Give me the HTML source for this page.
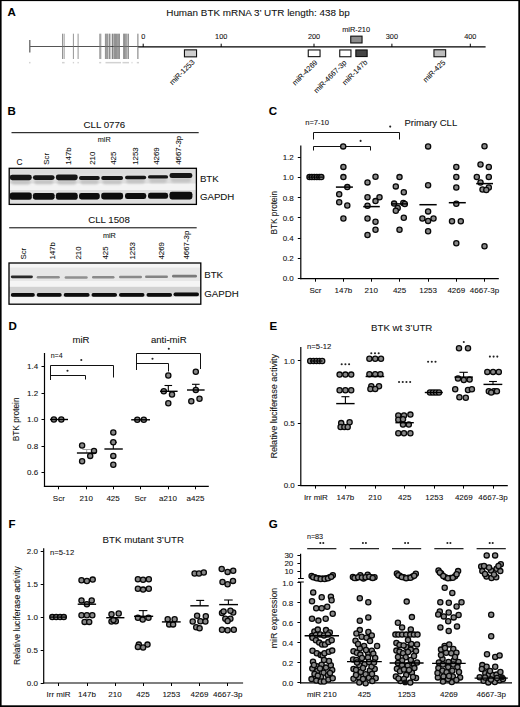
<!DOCTYPE html>
<html><head><meta charset="utf-8"><style>
html,body{margin:0;padding:0;background:#fff;}
svg{display:block;}
text{font-family:"Liberation Sans", sans-serif;stroke:#111;stroke-width:0.08px;}
</style></head><body>
<svg width="520" height="707" viewBox="0 0 520 707">
<rect x="0" y="0" width="520" height="707" fill="#fff"/>
<text x="7.60" y="16.40" font-size="11.5" text-anchor="start" font-weight="bold" fill="#000">A</text>
<text x="7.60" y="115.20" font-size="11.5" text-anchor="start" font-weight="bold" fill="#000">B</text>
<text x="268.80" y="115.20" font-size="11.5" text-anchor="start" font-weight="bold" fill="#000">C</text>
<text x="8.40" y="330.10" font-size="11.5" text-anchor="start" font-weight="bold" fill="#000">D</text>
<text x="269.40" y="330.20" font-size="11.5" text-anchor="start" font-weight="bold" fill="#000">E</text>
<text x="8.60" y="528.10" font-size="11.5" text-anchor="start" font-weight="bold" fill="#000">F</text>
<text x="268.80" y="528.30" font-size="11.5" text-anchor="start" font-weight="bold" fill="#000">G</text>
<text x="258.00" y="16.40" font-size="9.9" text-anchor="middle" fill="#111">Human BTK mRNA 3&#8217; UTR length: 438 bp</text>
<line x1="30.00" y1="46.50" x2="138.50" y2="46.50" stroke="#555" stroke-width="1.0"/>
<line x1="29.80" y1="40.10" x2="29.80" y2="52.60" stroke="#666" stroke-width="1.3"/>
<line x1="62.50" y1="33.70" x2="62.50" y2="59.00" stroke="#707070" stroke-width="0.75"/>
<line x1="64.10" y1="33.70" x2="64.10" y2="59.00" stroke="#707070" stroke-width="0.75"/>
<line x1="73.40" y1="33.70" x2="73.40" y2="59.00" stroke="#707070" stroke-width="0.75"/>
<line x1="78.10" y1="33.70" x2="78.10" y2="59.00" stroke="#707070" stroke-width="0.75"/>
<line x1="99.80" y1="33.70" x2="99.80" y2="59.00" stroke="#707070" stroke-width="0.75"/>
<line x1="100.80" y1="33.70" x2="100.80" y2="59.00" stroke="#707070" stroke-width="0.75"/>
<line x1="105.40" y1="33.70" x2="105.40" y2="59.00" stroke="#707070" stroke-width="0.75"/>
<line x1="106.20" y1="33.70" x2="106.20" y2="59.00" stroke="#707070" stroke-width="0.75"/>
<line x1="107.10" y1="33.70" x2="107.10" y2="59.00" stroke="#707070" stroke-width="0.75"/>
<line x1="107.90" y1="33.70" x2="107.90" y2="59.00" stroke="#707070" stroke-width="0.75"/>
<line x1="109.40" y1="33.70" x2="109.40" y2="59.00" stroke="#707070" stroke-width="0.75"/>
<line x1="110.00" y1="33.70" x2="110.00" y2="59.00" stroke="#707070" stroke-width="0.75"/>
<line x1="112.30" y1="33.70" x2="112.30" y2="59.00" stroke="#333" stroke-width="0.75"/>
<line x1="113.80" y1="33.70" x2="113.80" y2="59.00" stroke="#707070" stroke-width="0.75"/>
<line x1="114.60" y1="33.70" x2="114.60" y2="59.00" stroke="#707070" stroke-width="0.75"/>
<line x1="115.50" y1="33.70" x2="115.50" y2="59.00" stroke="#707070" stroke-width="0.75"/>
<line x1="116.50" y1="33.70" x2="116.50" y2="59.00" stroke="#707070" stroke-width="0.75"/>
<line x1="117.60" y1="33.70" x2="117.60" y2="59.00" stroke="#707070" stroke-width="0.75"/>
<line x1="118.60" y1="33.70" x2="118.60" y2="59.00" stroke="#707070" stroke-width="0.75"/>
<line x1="119.50" y1="33.70" x2="119.50" y2="59.00" stroke="#707070" stroke-width="0.75"/>
<line x1="123.60" y1="33.70" x2="123.60" y2="59.00" stroke="#707070" stroke-width="0.75"/>
<line x1="124.40" y1="33.70" x2="124.40" y2="59.00" stroke="#707070" stroke-width="0.75"/>
<line x1="125.20" y1="33.70" x2="125.20" y2="59.00" stroke="#707070" stroke-width="0.75"/>
<line x1="126.10" y1="33.70" x2="126.10" y2="59.00" stroke="#707070" stroke-width="0.75"/>
<line x1="127.10" y1="33.70" x2="127.10" y2="59.00" stroke="#707070" stroke-width="0.75"/>
<line x1="128.50" y1="33.70" x2="128.50" y2="59.00" stroke="#707070" stroke-width="0.75"/>
<line x1="137.90" y1="33.70" x2="137.90" y2="59.00" stroke="#666" stroke-width="0.9"/>
<rect x="29.0" y="61.9" width="1.5" height="1.5" fill="#d2d2d2"/>
<rect x="62.0" y="61.9" width="2.6" height="1.5" fill="#d2d2d2"/>
<rect x="72.8" y="61.9" width="1.3" height="1.5" fill="#d2d2d2"/>
<rect x="77.5" y="61.9" width="1.3" height="1.5" fill="#d2d2d2"/>
<rect x="99.2" y="61.9" width="2.0" height="1.5" fill="#d2d2d2"/>
<rect x="105.5" y="61.9" width="15.5" height="1.5" fill="#d2d2d2"/>
<rect x="122.5" y="61.9" width="6.5" height="1.5" fill="#d2d2d2"/>
<rect x="131.5" y="61.9" width="1.0" height="1.5" fill="#d2d2d2"/>
<rect x="136.8" y="61.9" width="2.2" height="1.5" fill="#d2d2d2"/>
<line x1="138.30" y1="46.90" x2="485.60" y2="46.90" stroke="#000" stroke-width="1.4"/>
<line x1="143.20" y1="43.70" x2="143.20" y2="47.00" stroke="#000" stroke-width="1.0"/>
<text x="143.20" y="38.90" font-size="7.3" text-anchor="middle" fill="#111">0</text>
<line x1="221.20" y1="43.70" x2="221.20" y2="47.00" stroke="#000" stroke-width="1.0"/>
<text x="221.20" y="38.90" font-size="7.3" text-anchor="middle" fill="#111">100</text>
<line x1="314.00" y1="43.70" x2="314.00" y2="47.00" stroke="#000" stroke-width="1.0"/>
<text x="314.00" y="38.90" font-size="7.3" text-anchor="middle" fill="#111">200</text>
<line x1="391.90" y1="43.70" x2="391.90" y2="47.00" stroke="#000" stroke-width="1.0"/>
<text x="391.90" y="38.90" font-size="7.3" text-anchor="middle" fill="#111">300</text>
<line x1="470.30" y1="43.70" x2="470.30" y2="47.00" stroke="#000" stroke-width="1.0"/>
<text x="470.30" y="38.90" font-size="7.3" text-anchor="middle" fill="#111">400</text>
<rect x="184.45" y="49.85" width="12.10" height="7.00" fill="#cfcfcf" stroke="#111" stroke-width="1.1"/>
<rect x="308.25" y="49.95" width="11.80" height="6.70" fill="#fff" stroke="#111" stroke-width="1.1"/>
<rect x="339.75" y="49.95" width="11.20" height="6.80" fill="#fff" stroke="#111" stroke-width="1.1"/>
<rect x="355.85" y="49.95" width="11.30" height="6.60" fill="#454545" stroke="#111" stroke-width="1.1"/>
<rect x="350.75" y="36.15" width="11.30" height="6.80" fill="#8c8c8c" stroke="#111" stroke-width="1.1"/>
<rect x="433.95" y="49.75" width="11.70" height="7.00" fill="#bdbdbd" stroke="#111" stroke-width="1.1"/>
<text x="356.10" y="32.20" font-size="7.4" text-anchor="middle" fill="#111">miR-210</text>
<text x="195.20" y="62.60" font-size="7.4" text-anchor="end" fill="#111" transform="rotate(-45 195.20 62.60)">miR-1253</text>
<text x="318.00" y="63.00" font-size="7.4" text-anchor="end" fill="#111" transform="rotate(-45 318.00 63.00)">miR-4269</text>
<text x="347.00" y="63.20" font-size="7.4" text-anchor="end" fill="#111" transform="rotate(-45 347.00 63.20)">miR-4667-3p</text>
<text x="367.80" y="62.80" font-size="7.4" text-anchor="end" fill="#111" transform="rotate(-45 367.80 62.80)">miR-147b</text>
<text x="445.80" y="63.00" font-size="7.4" text-anchor="end" fill="#111" transform="rotate(-45 445.80 63.00)">miR-425</text>
<defs><filter id="bl" x="-10%" y="-50%" width="120%" height="200%"><feGaussianBlur stdDeviation="0.55"/></filter><filter id="bl2" x="-10%" y="-50%" width="120%" height="200%"><feGaussianBlur stdDeviation="0.9"/></filter></defs>
<text x="83.60" y="127.60" font-size="9.7" text-anchor="start" fill="#111">CLL 0776</text>
<line x1="11.50" y1="132.70" x2="198.70" y2="132.70" stroke="#000" stroke-width="1.0"/>
<text x="97.70" y="142.30" font-size="7.3" text-anchor="start" fill="#111">miR</text>
<text x="19.50" y="164.80" font-size="8.3" text-anchor="middle" fill="#111">C</text>
<text x="48.90" y="164.80" font-size="7.9" text-anchor="start" fill="#111" transform="rotate(-90 48.90 164.80)">Scr</text>
<text x="71.20" y="164.80" font-size="7.9" text-anchor="start" fill="#111" transform="rotate(-90 71.20 164.80)">147b</text>
<text x="94.70" y="164.80" font-size="7.9" text-anchor="start" fill="#111" transform="rotate(-90 94.70 164.80)">210</text>
<text x="116.30" y="164.80" font-size="7.9" text-anchor="start" fill="#111" transform="rotate(-90 116.30 164.80)">425</text>
<text x="137.90" y="164.80" font-size="7.9" text-anchor="start" fill="#111" transform="rotate(-90 137.90 164.80)">1253</text>
<text x="159.40" y="164.80" font-size="7.9" text-anchor="start" fill="#111" transform="rotate(-90 159.40 164.80)">4269</text>
<text x="181.00" y="164.80" font-size="7.9" text-anchor="start" fill="#111" transform="rotate(-90 181.00 164.80)">4667-3p</text>
<rect x="9.2" y="168.3" width="187.20000000000002" height="36.099999999999994" fill="#dfdfdf"/>
<rect x="9.2" y="183.5" width="187.20000000000002" height="6.5" fill="#f3f3f3" filter="url(#bl)"/>
<rect x="9.2" y="168.3" width="187.20000000000002" height="5" fill="#dcdcdc"/>
<rect x="11.10" y="179.90" width="19.40" height="4.60" rx="2.30" fill="#c4c4c4" filter="url(#bl2)"/>
<rect x="34.20" y="179.70" width="19.10" height="4.60" rx="2.30" fill="#c4c4c4" filter="url(#bl2)"/>
<rect x="57.20" y="179.90" width="19.20" height="4.60" rx="2.30" fill="#c4c4c4" filter="url(#bl2)"/>
<rect x="80.30" y="179.60" width="18.20" height="4.60" rx="2.30" fill="#c4c4c4" filter="url(#bl2)"/>
<rect x="102.50" y="179.70" width="19.30" height="4.60" rx="2.30" fill="#c4c4c4" filter="url(#bl2)"/>
<rect x="126.30" y="178.95" width="18.60" height="4.60" rx="2.30" fill="#c4c4c4" filter="url(#bl2)"/>
<rect x="149.30" y="178.30" width="17.50" height="4.60" rx="2.30" fill="#c4c4c4" filter="url(#bl2)"/>
<rect x="170.80" y="177.80" width="20.30" height="4.60" rx="2.30" fill="#c4c4c4" filter="url(#bl2)"/>
<rect x="9.80" y="174.80" width="22.00" height="5.40" rx="2.40" fill="#141414" filter="url(#bl)"/>
<rect x="9.80" y="192.60" width="22.00" height="7.20" rx="2.40" fill="#0a0a0a" filter="url(#bl)"/>
<rect x="32.90" y="175.20" width="21.70" height="4.80" rx="2.40" fill="#141414" filter="url(#bl)"/>
<rect x="32.90" y="192.90" width="21.70" height="6.80" rx="2.40" fill="#0a0a0a" filter="url(#bl)"/>
<rect x="55.90" y="174.40" width="21.80" height="5.80" rx="2.40" fill="#141414" filter="url(#bl)"/>
<rect x="55.90" y="192.80" width="21.80" height="7.00" rx="2.40" fill="#0a0a0a" filter="url(#bl)"/>
<rect x="79.00" y="175.90" width="20.80" height="4.00" rx="2.00" fill="#141414" filter="url(#bl)"/>
<rect x="79.00" y="193.00" width="20.80" height="6.40" rx="2.40" fill="#0a0a0a" filter="url(#bl)"/>
<rect x="101.20" y="176.00" width="21.90" height="4.00" rx="2.00" fill="#141414" filter="url(#bl)"/>
<rect x="101.20" y="192.70" width="21.90" height="6.80" rx="2.40" fill="#0a0a0a" filter="url(#bl)"/>
<rect x="125.00" y="175.75" width="21.20" height="3.50" rx="1.75" fill="#141414" filter="url(#bl)"/>
<rect x="125.00" y="192.90" width="21.20" height="6.20" rx="2.40" fill="#0a0a0a" filter="url(#bl)"/>
<rect x="148.00" y="175.20" width="20.10" height="3.40" rx="1.70" fill="#141414" filter="url(#bl)"/>
<rect x="148.00" y="192.80" width="20.10" height="6.00" rx="2.40" fill="#0a0a0a" filter="url(#bl)"/>
<rect x="169.50" y="172.90" width="22.90" height="5.20" rx="2.40" fill="#141414" filter="url(#bl)"/>
<rect x="169.50" y="191.80" width="22.90" height="7.60" rx="2.40" fill="#0a0a0a" filter="url(#bl)"/>
<rect x="9.20" y="168.30" width="187.20" height="36.10" fill="none" stroke="#000" stroke-width="1.3"/>
<text x="199.90" y="182.00" font-size="9.7" text-anchor="start" fill="#111">BTK</text>
<text x="199.90" y="199.60" font-size="9.7" text-anchor="start" fill="#111">GAPDH</text>
<text x="88.20" y="223.00" font-size="9.7" text-anchor="start" fill="#111">CLL 1508</text>
<line x1="9.20" y1="227.80" x2="196.70" y2="227.80" stroke="#000" stroke-width="1.0"/>
<text x="102.90" y="237.70" font-size="7.3" text-anchor="start" fill="#111">miR</text>
<text x="26.40" y="259.60" font-size="7.9" text-anchor="start" fill="#111" transform="rotate(-90 26.40 259.60)">Scr</text>
<text x="55.10" y="259.60" font-size="7.9" text-anchor="start" fill="#111" transform="rotate(-90 55.10 259.60)">147b</text>
<text x="81.30" y="259.60" font-size="7.9" text-anchor="start" fill="#111" transform="rotate(-90 81.30 259.60)">210</text>
<text x="108.40" y="259.60" font-size="7.9" text-anchor="start" fill="#111" transform="rotate(-90 108.40 259.60)">425</text>
<text x="134.70" y="259.60" font-size="7.9" text-anchor="start" fill="#111" transform="rotate(-90 134.70 259.60)">1253</text>
<text x="164.10" y="259.60" font-size="7.9" text-anchor="start" fill="#111" transform="rotate(-90 164.10 259.60)">4269</text>
<text x="188.60" y="259.60" font-size="7.9" text-anchor="start" fill="#111" transform="rotate(-90 188.60 259.60)">4667-3p</text>
<rect x="9.0" y="263.0" width="191.8" height="41.19999999999999" fill="#f5f5f5"/>
<rect x="9.0" y="267.6" width="191.8" height="13.4" fill="#e7e7e7" filter="url(#bl)"/>
<rect x="9.0" y="286.8" width="191.8" height="6.5" fill="#d2d2d2" filter="url(#bl)"/>
<rect x="9.0" y="293" width="191.8" height="4" fill="#e0e0e0" filter="url(#bl)"/>
<rect x="10.80" y="275.40" width="22.10" height="2.80" rx="1.40" fill="#2a2a2a" filter="url(#bl)"/>
<rect x="36.70" y="275.95" width="23.10" height="2.50" rx="1.25" fill="#8e8e8e" filter="url(#bl)"/>
<rect x="64.60" y="276.15" width="23.10" height="2.50" rx="1.25" fill="#909090" filter="url(#bl)"/>
<rect x="92.00" y="275.95" width="22.50" height="2.50" rx="1.25" fill="#8a8a8a" filter="url(#bl)"/>
<rect x="119.00" y="275.75" width="23.00" height="2.50" rx="1.25" fill="#8a8a8a" filter="url(#bl)"/>
<rect x="145.00" y="275.50" width="23.00" height="2.60" rx="1.30" fill="#848484" filter="url(#bl)"/>
<rect x="172.00" y="274.80" width="25.00" height="2.80" rx="1.40" fill="#7a7a7a" filter="url(#bl)"/>
<rect x="10.80" y="293.10" width="24.00" height="3.60" rx="1.80" fill="#080808" filter="url(#bl)"/>
<rect x="36.70" y="293.10" width="25.00" height="3.60" rx="1.80" fill="#080808" filter="url(#bl)"/>
<rect x="63.70" y="293.10" width="25.90" height="3.60" rx="1.80" fill="#080808" filter="url(#bl)"/>
<rect x="91.50" y="293.10" width="25.50" height="3.60" rx="1.80" fill="#080808" filter="url(#bl)"/>
<rect x="119.00" y="293.10" width="25.50" height="3.60" rx="1.80" fill="#080808" filter="url(#bl)"/>
<rect x="146.50" y="293.10" width="25.50" height="3.60" rx="1.80" fill="#080808" filter="url(#bl)"/>
<rect x="173.50" y="292.60" width="25.50" height="3.60" rx="1.80" fill="#080808" filter="url(#bl)"/>
<rect x="9.00" y="263.00" width="191.80" height="41.20" fill="none" stroke="#000" stroke-width="1.3"/>
<text x="204.20" y="277.50" font-size="9.7" text-anchor="start" fill="#111">BTK</text>
<text x="204.20" y="296.60" font-size="9.7" text-anchor="start" fill="#111">GAPDH</text>
<line x1="300.80" y1="145.50" x2="300.80" y2="279.20" stroke="#000" stroke-width="1.2"/>
<line x1="297.80" y1="278.50" x2="300.80" y2="278.50" stroke="#000" stroke-width="1.0"/>
<text x="293.80" y="281.10" font-size="8.0" text-anchor="end" fill="#111">0.0</text>
<line x1="297.80" y1="258.50" x2="300.80" y2="258.50" stroke="#000" stroke-width="1.0"/>
<text x="293.80" y="260.96" font-size="8.0" text-anchor="end" fill="#111">0.2</text>
<line x1="297.80" y1="238.50" x2="300.80" y2="238.50" stroke="#000" stroke-width="1.0"/>
<text x="293.80" y="240.82" font-size="8.0" text-anchor="end" fill="#111">0.4</text>
<line x1="297.80" y1="217.50" x2="300.80" y2="217.50" stroke="#000" stroke-width="1.0"/>
<text x="293.80" y="220.68" font-size="8.0" text-anchor="end" fill="#111">0.6</text>
<line x1="297.80" y1="197.50" x2="300.80" y2="197.50" stroke="#000" stroke-width="1.0"/>
<text x="293.80" y="200.54" font-size="8.0" text-anchor="end" fill="#111">0.8</text>
<line x1="297.80" y1="177.50" x2="300.80" y2="177.50" stroke="#000" stroke-width="1.0"/>
<text x="293.80" y="180.40" font-size="8.0" text-anchor="end" fill="#111">1.0</text>
<line x1="297.80" y1="157.50" x2="300.80" y2="157.50" stroke="#000" stroke-width="1.0"/>
<text x="293.80" y="160.26" font-size="8.0" text-anchor="end" fill="#111">1.2</text>
<line x1="300.20" y1="278.70" x2="498.80" y2="278.70" stroke="#000" stroke-width="1.2"/>
<line x1="315.50" y1="278.70" x2="315.50" y2="281.70" stroke="#000" stroke-width="1.0"/>
<text x="315.40" y="292.50" font-size="8.0" text-anchor="middle" fill="#111">Scr</text>
<line x1="343.50" y1="278.70" x2="343.50" y2="281.70" stroke="#000" stroke-width="1.0"/>
<text x="343.40" y="292.50" font-size="8.0" text-anchor="middle" fill="#111">147b</text>
<line x1="371.50" y1="278.70" x2="371.50" y2="281.70" stroke="#000" stroke-width="1.0"/>
<text x="371.30" y="292.50" font-size="8.0" text-anchor="middle" fill="#111">210</text>
<line x1="399.50" y1="278.70" x2="399.50" y2="281.70" stroke="#000" stroke-width="1.0"/>
<text x="399.60" y="292.50" font-size="8.0" text-anchor="middle" fill="#111">425</text>
<line x1="428.50" y1="278.70" x2="428.50" y2="281.70" stroke="#000" stroke-width="1.0"/>
<text x="428.10" y="292.50" font-size="8.0" text-anchor="middle" fill="#111">1253</text>
<line x1="456.50" y1="278.70" x2="456.50" y2="281.70" stroke="#000" stroke-width="1.0"/>
<text x="456.30" y="292.50" font-size="8.0" text-anchor="middle" fill="#111">4269</text>
<line x1="484.50" y1="278.70" x2="484.50" y2="281.70" stroke="#000" stroke-width="1.0"/>
<text x="484.50" y="292.50" font-size="8.0" text-anchor="middle" fill="#111">4667-3p</text>
<text x="276.90" y="212.70" font-size="8.3" text-anchor="middle" fill="#111" transform="rotate(-90 276.90 212.70)">BTK protein</text>
<text x="305.20" y="125.40" font-size="7.6" text-anchor="start" fill="#111">n=7-10</text>
<text x="404.40" y="125.50" font-size="9.5" text-anchor="start" fill="#111">Primary CLL</text>
<path d="M313.5 139.5 V132.5 H399.5 V139.5" fill="none" stroke="#111" stroke-width="1"/>
<path d="M313.5 150.5 V146.5 H370.5 V150.5" fill="none" stroke="#111" stroke-width="1"/>
<circle cx="390.20" cy="126.60" r="1.05" fill="#222"/>
<circle cx="360.60" cy="140.90" r="1.05" fill="#222"/>
<g fill="#888888" stroke="#080808" stroke-width="1.3">
<circle cx="309.50" cy="177.10" r="2.6"/>
<circle cx="311.80" cy="177.10" r="2.6"/>
<circle cx="314.30" cy="177.10" r="2.6"/>
<circle cx="316.80" cy="177.10" r="2.6"/>
<circle cx="319.30" cy="177.10" r="2.6"/>
<circle cx="321.30" cy="177.10" r="2.6"/>
<circle cx="343.20" cy="146.40" r="2.6"/>
<circle cx="343.40" cy="166.90" r="2.6"/>
<circle cx="343.40" cy="177.10" r="2.6"/>
<circle cx="347.30" cy="187.10" r="2.6"/>
<circle cx="339.20" cy="194.20" r="2.6"/>
<circle cx="339.20" cy="202.20" r="2.6"/>
<circle cx="347.30" cy="205.50" r="2.6"/>
<circle cx="343.40" cy="218.50" r="2.6"/>
<circle cx="375.50" cy="176.80" r="2.6"/>
<circle cx="367.50" cy="182.40" r="2.6"/>
<circle cx="367.50" cy="197.30" r="2.6"/>
<circle cx="379.50" cy="197.30" r="2.6"/>
<circle cx="375.50" cy="201.10" r="2.6"/>
<circle cx="367.50" cy="205.80" r="2.6"/>
<circle cx="367.50" cy="218.50" r="2.6"/>
<circle cx="375.50" cy="221.80" r="2.6"/>
<circle cx="375.50" cy="229.80" r="2.6"/>
<circle cx="367.50" cy="235.00" r="2.6"/>
<circle cx="399.50" cy="177.10" r="2.6"/>
<circle cx="395.80" cy="186.40" r="2.6"/>
<circle cx="403.80" cy="192.30" r="2.6"/>
<circle cx="394.10" cy="203.60" r="2.6"/>
<circle cx="403.30" cy="203.00" r="2.6"/>
<circle cx="404.80" cy="204.00" r="2.6"/>
<circle cx="397.70" cy="207.90" r="2.6"/>
<circle cx="395.80" cy="210.70" r="2.6"/>
<circle cx="403.80" cy="217.80" r="2.6"/>
<circle cx="399.50" cy="229.80" r="2.6"/>
<circle cx="428.10" cy="146.40" r="2.6"/>
<circle cx="428.10" cy="185.30" r="2.6"/>
<circle cx="428.10" cy="211.40" r="2.6"/>
<circle cx="422.40" cy="218.50" r="2.6"/>
<circle cx="433.50" cy="218.50" r="2.6"/>
<circle cx="428.10" cy="220.90" r="2.6"/>
<circle cx="428.10" cy="231.20" r="2.6"/>
<circle cx="456.30" cy="167.00" r="2.6"/>
<circle cx="456.30" cy="177.00" r="2.6"/>
<circle cx="456.30" cy="187.50" r="2.6"/>
<circle cx="456.30" cy="203.80" r="2.6"/>
<circle cx="452.00" cy="221.30" r="2.6"/>
<circle cx="460.80" cy="221.30" r="2.6"/>
<circle cx="456.30" cy="243.30" r="2.6"/>
<circle cx="484.50" cy="146.30" r="2.6"/>
<circle cx="480.50" cy="164.50" r="2.6"/>
<circle cx="488.80" cy="167.00" r="2.6"/>
<circle cx="476.80" cy="177.00" r="2.6"/>
<circle cx="488.80" cy="177.00" r="2.6"/>
<circle cx="480.50" cy="182.50" r="2.6"/>
<circle cx="488.80" cy="187.50" r="2.6"/>
<circle cx="482.50" cy="189.50" r="2.6"/>
<circle cx="486.30" cy="190.00" r="2.6"/>
<circle cx="484.50" cy="246.30" r="2.6"/>
</g>
<line x1="335.90" y1="187.10" x2="352.90" y2="187.10" stroke="#000" stroke-width="1.5"/>
<line x1="363.20" y1="206.60" x2="379.80" y2="206.60" stroke="#000" stroke-width="1.5"/>
<line x1="391.30" y1="203.90" x2="408.00" y2="203.90" stroke="#000" stroke-width="1.5"/>
<line x1="419.40" y1="204.70" x2="436.70" y2="204.70" stroke="#000" stroke-width="1.5"/>
<line x1="448.80" y1="202.70" x2="465.80" y2="202.70" stroke="#000" stroke-width="1.5"/>
<line x1="476.20" y1="183.60" x2="493.00" y2="183.60" stroke="#000" stroke-width="1.5"/>
<line x1="307.50" y1="177.10" x2="323.50" y2="177.10" stroke="#000" stroke-width="1.3"/>
<line x1="44.50" y1="353.00" x2="44.50" y2="486.80" stroke="#000" stroke-width="1.2"/>
<line x1="41.50" y1="472.50" x2="44.50" y2="472.50" stroke="#000" stroke-width="1.0"/>
<text x="38.20" y="475.20" font-size="8.0" text-anchor="end" fill="#111">0.6</text>
<line x1="41.50" y1="446.50" x2="44.50" y2="446.50" stroke="#000" stroke-width="1.0"/>
<text x="38.20" y="448.70" font-size="8.0" text-anchor="end" fill="#111">0.8</text>
<line x1="41.50" y1="419.50" x2="44.50" y2="419.50" stroke="#000" stroke-width="1.0"/>
<text x="38.20" y="422.20" font-size="8.0" text-anchor="end" fill="#111">1.0</text>
<line x1="41.50" y1="393.50" x2="44.50" y2="393.50" stroke="#000" stroke-width="1.0"/>
<text x="38.20" y="395.70" font-size="8.0" text-anchor="end" fill="#111">1.2</text>
<line x1="41.50" y1="366.50" x2="44.50" y2="366.50" stroke="#000" stroke-width="1.0"/>
<text x="38.20" y="369.20" font-size="8.0" text-anchor="end" fill="#111">1.4</text>
<line x1="43.90" y1="486.30" x2="208.80" y2="486.30" stroke="#000" stroke-width="1.2"/>
<line x1="58.50" y1="486.30" x2="58.50" y2="489.30" stroke="#000" stroke-width="1.0"/>
<text x="58.80" y="501.00" font-size="8.0" text-anchor="middle" fill="#111">Scr</text>
<line x1="86.50" y1="486.30" x2="86.50" y2="489.30" stroke="#000" stroke-width="1.0"/>
<text x="86.20" y="501.00" font-size="8.0" text-anchor="middle" fill="#111">210</text>
<line x1="113.50" y1="486.30" x2="113.50" y2="489.30" stroke="#000" stroke-width="1.0"/>
<text x="113.10" y="501.00" font-size="8.0" text-anchor="middle" fill="#111">425</text>
<line x1="140.50" y1="486.30" x2="140.50" y2="489.30" stroke="#000" stroke-width="1.0"/>
<text x="140.50" y="501.00" font-size="8.0" text-anchor="middle" fill="#111">Scr</text>
<line x1="168.50" y1="486.30" x2="168.50" y2="489.30" stroke="#000" stroke-width="1.0"/>
<text x="168.00" y="501.00" font-size="8.0" text-anchor="middle" fill="#111">a210</text>
<line x1="195.50" y1="486.30" x2="195.50" y2="489.30" stroke="#000" stroke-width="1.0"/>
<text x="195.50" y="501.00" font-size="8.0" text-anchor="middle" fill="#111">a425</text>
<text x="18.60" y="419.40" font-size="8.3" text-anchor="middle" fill="#111" transform="rotate(-90 18.60 419.40)">BTK protein</text>
<text x="81.00" y="342.50" font-size="9.6" text-anchor="middle" fill="#111">miR</text>
<text x="168.80" y="343.00" font-size="9.6" text-anchor="middle" fill="#111">anti-miR</text>
<text x="50.70" y="358.00" font-size="7.0" text-anchor="start" fill="#111">n=4</text>
<path d="M50.5 377.5 V365.5 H113.5 V377.5" fill="none" stroke="#111" stroke-width="1"/>
<path d="M50.5 380 V375.5 H85.5 V379.5" fill="none" stroke="#111" stroke-width="1"/>
<path d="M136.5 370 V353.5 H200.5 V369" fill="none" stroke="#111" stroke-width="1"/>
<path d="M136.5 370 V363.5 H168.5 V371.5" fill="none" stroke="#111" stroke-width="1"/>
<circle cx="81.30" cy="360.00" r="1.05" fill="#222"/>
<circle cx="67.50" cy="370.80" r="1.05" fill="#222"/>
<circle cx="168.80" cy="348.80" r="1.05" fill="#222"/>
<circle cx="152.50" cy="358.80" r="1.05" fill="#222"/>
<line x1="86.70" y1="449.50" x2="86.70" y2="453.00" stroke="#999" stroke-width="0.9"/>
<line x1="82.40" y1="449.50" x2="91.00" y2="449.50" stroke="#999" stroke-width="0.9"/>
<line x1="113.30" y1="442.30" x2="113.30" y2="449.00" stroke="#000" stroke-width="1.1"/>
<line x1="109.80" y1="442.30" x2="116.80" y2="442.30" stroke="#000" stroke-width="1.1"/>
<line x1="168.30" y1="385.50" x2="168.30" y2="391.30" stroke="#000" stroke-width="1.1"/>
<line x1="164.50" y1="385.50" x2="172.10" y2="385.50" stroke="#000" stroke-width="1.1"/>
<line x1="195.80" y1="384.30" x2="195.80" y2="390.00" stroke="#000" stroke-width="1.1"/>
<line x1="192.00" y1="384.30" x2="199.60" y2="384.30" stroke="#000" stroke-width="1.1"/>
<g fill="#888888" stroke="#080808" stroke-width="1.3">
<circle cx="53.90" cy="419.50" r="2.6"/>
<circle cx="61.30" cy="419.50" r="2.6"/>
<circle cx="82.10" cy="445.50" r="2.6"/>
<circle cx="94.00" cy="451.00" r="2.6"/>
<circle cx="90.20" cy="455.90" r="2.6"/>
<circle cx="82.10" cy="461.30" r="2.6"/>
<circle cx="113.30" cy="432.50" r="2.6"/>
<circle cx="113.30" cy="442.30" r="2.6"/>
<circle cx="113.30" cy="455.90" r="2.6"/>
<circle cx="113.30" cy="464.80" r="2.6"/>
<circle cx="137.30" cy="419.80" r="2.6"/>
<circle cx="143.80" cy="419.80" r="2.6"/>
<circle cx="168.30" cy="375.50" r="2.6"/>
<circle cx="163.80" cy="391.30" r="2.6"/>
<circle cx="172.00" cy="394.50" r="2.6"/>
<circle cx="168.30" cy="403.30" r="2.6"/>
<circle cx="195.80" cy="371.80" r="2.6"/>
<circle cx="195.80" cy="390.00" r="2.6"/>
<circle cx="191.30" cy="401.30" r="2.6"/>
<circle cx="199.50" cy="398.80" r="2.6"/>
</g>
<line x1="50.00" y1="419.50" x2="68.00" y2="419.50" stroke="#000" stroke-width="1.4"/>
<line x1="76.90" y1="453.00" x2="96.10" y2="453.00" stroke="#000" stroke-width="1.4"/>
<line x1="104.40" y1="449.00" x2="122.80" y2="449.00" stroke="#000" stroke-width="1.4"/>
<line x1="131.20" y1="419.80" x2="150.00" y2="419.80" stroke="#000" stroke-width="1.4"/>
<line x1="160.00" y1="391.30" x2="177.60" y2="391.30" stroke="#000" stroke-width="1.4"/>
<line x1="187.00" y1="390.00" x2="204.60" y2="390.00" stroke="#000" stroke-width="1.4"/>
<line x1="300.80" y1="347.00" x2="300.80" y2="486.10" stroke="#000" stroke-width="1.2"/>
<line x1="297.80" y1="485.50" x2="300.80" y2="485.50" stroke="#000" stroke-width="1.0"/>
<text x="294.80" y="488.30" font-size="8.0" text-anchor="end" fill="#111">0.0</text>
<line x1="297.80" y1="423.50" x2="300.80" y2="423.50" stroke="#000" stroke-width="1.0"/>
<text x="294.80" y="425.90" font-size="8.0" text-anchor="end" fill="#111">0.5</text>
<line x1="297.80" y1="360.50" x2="300.80" y2="360.50" stroke="#000" stroke-width="1.0"/>
<text x="294.80" y="363.50" font-size="8.0" text-anchor="end" fill="#111">1.0</text>
<line x1="300.20" y1="485.60" x2="507.80" y2="485.60" stroke="#000" stroke-width="1.2"/>
<line x1="315.50" y1="485.60" x2="315.50" y2="488.60" stroke="#000" stroke-width="1.0"/>
<text x="315.90" y="500.00" font-size="8.0" text-anchor="middle" fill="#111">Irr miR</text>
<line x1="345.50" y1="485.60" x2="345.50" y2="488.60" stroke="#000" stroke-width="1.0"/>
<text x="345.40" y="500.00" font-size="8.0" text-anchor="middle" fill="#111">147b</text>
<line x1="375.50" y1="485.60" x2="375.50" y2="488.60" stroke="#000" stroke-width="1.0"/>
<text x="375.00" y="500.00" font-size="8.0" text-anchor="middle" fill="#111">210</text>
<line x1="404.50" y1="485.60" x2="404.50" y2="488.60" stroke="#000" stroke-width="1.0"/>
<text x="404.70" y="500.00" font-size="8.0" text-anchor="middle" fill="#111">425</text>
<line x1="434.50" y1="485.60" x2="434.50" y2="488.60" stroke="#000" stroke-width="1.0"/>
<text x="434.20" y="500.00" font-size="8.0" text-anchor="middle" fill="#111">1253</text>
<line x1="463.50" y1="485.60" x2="463.50" y2="488.60" stroke="#000" stroke-width="1.0"/>
<text x="463.80" y="500.00" font-size="8.0" text-anchor="middle" fill="#111">4269</text>
<line x1="493.50" y1="485.60" x2="493.50" y2="488.60" stroke="#000" stroke-width="1.0"/>
<text x="493.00" y="500.00" font-size="8.0" text-anchor="middle" fill="#111">4667-3p</text>
<text x="276.90" y="406.20" font-size="9.1" text-anchor="middle" fill="#111" transform="rotate(-90 276.90 406.20)">Relative luciferase activity</text>
<text x="371.00" y="331.40" font-size="9.7" text-anchor="start" fill="#111">BTK wt 3&#8217;UTR</text>
<text x="307.10" y="349.40" font-size="7.7" text-anchor="start" fill="#111">n=5-12</text>
<circle cx="341.70" cy="364.20" r="1.05" fill="#222"/>
<circle cx="345.40" cy="364.20" r="1.05" fill="#222"/>
<circle cx="349.10" cy="364.20" r="1.05" fill="#222"/>
<circle cx="371.30" cy="353.30" r="1.05" fill="#222"/>
<circle cx="375.00" cy="353.30" r="1.05" fill="#222"/>
<circle cx="378.70" cy="353.30" r="1.05" fill="#222"/>
<circle cx="399.05" cy="382.00" r="1.05" fill="#222"/>
<circle cx="402.75" cy="382.00" r="1.05" fill="#222"/>
<circle cx="406.45" cy="382.00" r="1.05" fill="#222"/>
<circle cx="410.15" cy="382.00" r="1.05" fill="#222"/>
<circle cx="428.10" cy="361.80" r="1.05" fill="#222"/>
<circle cx="431.80" cy="361.80" r="1.05" fill="#222"/>
<circle cx="435.50" cy="361.80" r="1.05" fill="#222"/>
<circle cx="463.80" cy="342.00" r="1.05" fill="#222"/>
<circle cx="489.90" cy="356.60" r="1.05" fill="#222"/>
<circle cx="493.60" cy="356.60" r="1.05" fill="#222"/>
<circle cx="497.30" cy="356.60" r="1.05" fill="#222"/>
<g fill="#888888" stroke="#080808" stroke-width="1.3">
<circle cx="310.20" cy="361.00" r="2.6"/>
<circle cx="313.50" cy="361.00" r="2.6"/>
<circle cx="316.50" cy="361.00" r="2.6"/>
<circle cx="319.50" cy="361.00" r="2.6"/>
<circle cx="322.20" cy="361.00" r="2.6"/>
<circle cx="339.60" cy="374.60" r="2.6"/>
<circle cx="345.40" cy="374.60" r="2.6"/>
<circle cx="351.20" cy="374.60" r="2.6"/>
<circle cx="339.60" cy="390.20" r="2.6"/>
<circle cx="345.40" cy="390.20" r="2.6"/>
<circle cx="351.20" cy="390.20" r="2.6"/>
<circle cx="341.20" cy="423.10" r="2.6"/>
<circle cx="349.60" cy="422.30" r="2.6"/>
<circle cx="340.60" cy="427.00" r="2.6"/>
<circle cx="344.40" cy="427.00" r="2.6"/>
<circle cx="347.70" cy="427.00" r="2.6"/>
<circle cx="369.40" cy="358.80" r="2.6"/>
<circle cx="375.20" cy="358.80" r="2.6"/>
<circle cx="381.00" cy="358.80" r="2.6"/>
<circle cx="369.40" cy="374.20" r="2.6"/>
<circle cx="375.20" cy="374.20" r="2.6"/>
<circle cx="380.40" cy="374.20" r="2.6"/>
<circle cx="371.30" cy="386.20" r="2.6"/>
<circle cx="379.00" cy="386.20" r="2.6"/>
<circle cx="370.40" cy="389.00" r="2.6"/>
<circle cx="375.20" cy="389.00" r="2.6"/>
<circle cx="398.30" cy="415.40" r="2.6"/>
<circle cx="404.00" cy="415.40" r="2.6"/>
<circle cx="410.40" cy="414.60" r="2.6"/>
<circle cx="398.30" cy="419.80" r="2.6"/>
<circle cx="403.00" cy="419.20" r="2.6"/>
<circle cx="403.00" cy="424.60" r="2.6"/>
<circle cx="408.80" cy="424.60" r="2.6"/>
<circle cx="398.30" cy="433.30" r="2.6"/>
<circle cx="404.00" cy="433.30" r="2.6"/>
<circle cx="410.40" cy="433.30" r="2.6"/>
<circle cx="430.00" cy="392.50" r="2.6"/>
<circle cx="433.00" cy="392.50" r="2.6"/>
<circle cx="436.00" cy="392.50" r="2.6"/>
<circle cx="439.00" cy="392.50" r="2.6"/>
<circle cx="459.00" cy="348.30" r="2.6"/>
<circle cx="468.00" cy="348.30" r="2.6"/>
<circle cx="458.00" cy="378.50" r="2.6"/>
<circle cx="463.80" cy="380.00" r="2.6"/>
<circle cx="469.60" cy="379.60" r="2.6"/>
<circle cx="455.20" cy="389.20" r="2.6"/>
<circle cx="468.00" cy="390.00" r="2.6"/>
<circle cx="471.90" cy="389.20" r="2.6"/>
<circle cx="459.40" cy="397.30" r="2.6"/>
<circle cx="465.80" cy="397.70" r="2.6"/>
<circle cx="487.30" cy="371.90" r="2.6"/>
<circle cx="493.10" cy="371.90" r="2.6"/>
<circle cx="498.80" cy="371.90" r="2.6"/>
<circle cx="488.80" cy="391.20" r="2.6"/>
<circle cx="494.00" cy="391.20" r="2.6"/>
<circle cx="496.90" cy="391.20" r="2.6"/>
<circle cx="491.20" cy="392.50" r="2.6"/>
</g>
<line x1="310.00" y1="361.00" x2="322.50" y2="361.00" stroke="#000" stroke-width="1.3"/>
<line x1="345.40" y1="396.70" x2="345.40" y2="403.60" stroke="#000" stroke-width="1.1"/>
<line x1="341.40" y1="396.70" x2="349.40" y2="396.70" stroke="#000" stroke-width="1.1"/>
<line x1="336.20" y1="403.60" x2="354.60" y2="403.60" stroke="#000" stroke-width="1.4"/>
<line x1="365.60" y1="376.50" x2="384.20" y2="376.50" stroke="#000" stroke-width="1.4"/>
<line x1="395.40" y1="422.70" x2="413.80" y2="422.70" stroke="#000" stroke-width="1.4"/>
<line x1="424.80" y1="392.50" x2="442.80" y2="392.50" stroke="#000" stroke-width="1.4"/>
<line x1="463.60" y1="372.30" x2="463.60" y2="377.10" stroke="#000" stroke-width="1.1"/>
<line x1="459.40" y1="372.30" x2="467.80" y2="372.30" stroke="#000" stroke-width="1.1"/>
<line x1="454.50" y1="377.10" x2="472.90" y2="377.10" stroke="#000" stroke-width="1.4"/>
<line x1="493.00" y1="381.50" x2="493.00" y2="384.40" stroke="#000" stroke-width="1.1"/>
<line x1="489.10" y1="381.50" x2="496.90" y2="381.50" stroke="#000" stroke-width="1.1"/>
<line x1="483.50" y1="384.40" x2="502.30" y2="384.40" stroke="#000" stroke-width="1.4"/>
<line x1="43.70" y1="548.30" x2="43.70" y2="683.50" stroke="#000" stroke-width="1.2"/>
<line x1="40.70" y1="683.50" x2="43.70" y2="683.50" stroke="#000" stroke-width="1.0"/>
<text x="37.90" y="685.70" font-size="8.0" text-anchor="end" fill="#111">0.0</text>
<line x1="40.70" y1="650.50" x2="43.70" y2="650.50" stroke="#000" stroke-width="1.0"/>
<text x="37.90" y="652.73" font-size="8.0" text-anchor="end" fill="#111">0.5</text>
<line x1="40.70" y1="617.50" x2="43.70" y2="617.50" stroke="#000" stroke-width="1.0"/>
<text x="37.90" y="619.75" font-size="8.0" text-anchor="end" fill="#111">1.0</text>
<line x1="40.70" y1="584.50" x2="43.70" y2="584.50" stroke="#000" stroke-width="1.0"/>
<text x="37.90" y="586.78" font-size="8.0" text-anchor="end" fill="#111">1.5</text>
<line x1="40.70" y1="551.50" x2="43.70" y2="551.50" stroke="#000" stroke-width="1.0"/>
<text x="37.90" y="553.80" font-size="8.0" text-anchor="end" fill="#111">2.0</text>
<line x1="43.10" y1="683.00" x2="243.10" y2="683.00" stroke="#000" stroke-width="1.2"/>
<line x1="58.50" y1="683.00" x2="58.50" y2="686.00" stroke="#000" stroke-width="1.0"/>
<text x="58.60" y="697.40" font-size="8.0" text-anchor="middle" fill="#111">Irr miR</text>
<line x1="87.50" y1="683.00" x2="87.50" y2="686.00" stroke="#000" stroke-width="1.0"/>
<text x="87.00" y="697.40" font-size="8.0" text-anchor="middle" fill="#111">147b</text>
<line x1="115.50" y1="683.00" x2="115.50" y2="686.00" stroke="#000" stroke-width="1.0"/>
<text x="115.00" y="697.40" font-size="8.0" text-anchor="middle" fill="#111">210</text>
<line x1="143.50" y1="683.00" x2="143.50" y2="686.00" stroke="#000" stroke-width="1.0"/>
<text x="143.00" y="697.40" font-size="8.0" text-anchor="middle" fill="#111">425</text>
<line x1="171.50" y1="683.00" x2="171.50" y2="686.00" stroke="#000" stroke-width="1.0"/>
<text x="171.30" y="697.40" font-size="8.0" text-anchor="middle" fill="#111">1253</text>
<line x1="199.50" y1="683.00" x2="199.50" y2="686.00" stroke="#000" stroke-width="1.0"/>
<text x="199.50" y="697.40" font-size="8.0" text-anchor="middle" fill="#111">4269</text>
<line x1="227.50" y1="683.00" x2="227.50" y2="686.00" stroke="#000" stroke-width="1.0"/>
<text x="227.80" y="697.40" font-size="8.0" text-anchor="middle" fill="#111">4667-3p</text>
<text x="19.90" y="615.60" font-size="8.6" text-anchor="middle" fill="#111" transform="rotate(-90 19.90 615.60)">Relative luciferase activity</text>
<text x="102.60" y="543.00" font-size="9.7" text-anchor="start" fill="#111">BTK mutant 3&#8217;UTR</text>
<text x="50.00" y="555.00" font-size="7.7" text-anchor="start" fill="#111">n=5-12</text>
<g fill="#888888" stroke="#080808" stroke-width="1.3">
<circle cx="52.30" cy="617.10" r="2.6"/>
<circle cx="56.20" cy="617.10" r="2.6"/>
<circle cx="60.10" cy="617.10" r="2.6"/>
<circle cx="63.80" cy="617.10" r="2.6"/>
<circle cx="81.50" cy="580.20" r="2.6"/>
<circle cx="86.90" cy="581.00" r="2.6"/>
<circle cx="92.70" cy="579.60" r="2.6"/>
<circle cx="81.50" cy="600.40" r="2.6"/>
<circle cx="91.70" cy="600.40" r="2.6"/>
<circle cx="86.90" cy="604.20" r="2.6"/>
<circle cx="81.50" cy="615.20" r="2.6"/>
<circle cx="86.90" cy="615.20" r="2.6"/>
<circle cx="92.30" cy="615.20" r="2.6"/>
<circle cx="84.60" cy="621.90" r="2.6"/>
<circle cx="89.20" cy="621.90" r="2.6"/>
<circle cx="111.50" cy="614.20" r="2.6"/>
<circle cx="118.70" cy="613.50" r="2.6"/>
<circle cx="111.50" cy="621.50" r="2.6"/>
<circle cx="115.80" cy="621.20" r="2.6"/>
<circle cx="113.50" cy="620.00" r="2.6"/>
<circle cx="137.90" cy="579.20" r="2.6"/>
<circle cx="143.10" cy="579.80" r="2.6"/>
<circle cx="148.80" cy="579.20" r="2.6"/>
<circle cx="137.90" cy="588.80" r="2.6"/>
<circle cx="143.10" cy="589.60" r="2.6"/>
<circle cx="148.80" cy="588.80" r="2.6"/>
<circle cx="137.90" cy="617.70" r="2.6"/>
<circle cx="142.70" cy="619.60" r="2.6"/>
<circle cx="148.50" cy="617.70" r="2.6"/>
<circle cx="138.80" cy="644.60" r="2.6"/>
<circle cx="147.50" cy="644.60" r="2.6"/>
<circle cx="137.90" cy="646.90" r="2.6"/>
<circle cx="143.10" cy="647.50" r="2.6"/>
<circle cx="167.70" cy="619.20" r="2.6"/>
<circle cx="174.60" cy="619.20" r="2.6"/>
<circle cx="169.20" cy="624.40" r="2.6"/>
<circle cx="173.10" cy="624.40" r="2.6"/>
<circle cx="194.60" cy="573.50" r="2.6"/>
<circle cx="199.00" cy="573.50" r="2.6"/>
<circle cx="203.80" cy="572.50" r="2.6"/>
<circle cx="197.10" cy="615.80" r="2.6"/>
<circle cx="205.80" cy="616.20" r="2.6"/>
<circle cx="192.70" cy="621.50" r="2.6"/>
<circle cx="200.40" cy="621.20" r="2.6"/>
<circle cx="205.40" cy="621.50" r="2.6"/>
<circle cx="196.20" cy="627.30" r="2.6"/>
<circle cx="199.60" cy="628.30" r="2.6"/>
<circle cx="221.70" cy="569.00" r="2.6"/>
<circle cx="227.60" cy="571.90" r="2.6"/>
<circle cx="233.20" cy="570.70" r="2.6"/>
<circle cx="222.50" cy="582.00" r="2.6"/>
<circle cx="227.60" cy="584.30" r="2.6"/>
<circle cx="233.00" cy="580.90" r="2.6"/>
<circle cx="222.00" cy="613.10" r="2.6"/>
<circle cx="233.20" cy="612.50" r="2.6"/>
<circle cx="223.60" cy="611.40" r="2.6"/>
<circle cx="230.40" cy="610.80" r="2.6"/>
<circle cx="225.30" cy="618.80" r="2.6"/>
<circle cx="230.40" cy="618.80" r="2.6"/>
<circle cx="227.60" cy="621.00" r="2.6"/>
<circle cx="222.00" cy="629.80" r="2.6"/>
<circle cx="227.60" cy="630.30" r="2.6"/>
<circle cx="233.80" cy="629.80" r="2.6"/>
</g>
<line x1="50.00" y1="617.10" x2="66.00" y2="617.10" stroke="#000" stroke-width="1.3"/>
<line x1="77.70" y1="604.20" x2="96.10" y2="604.20" stroke="#000" stroke-width="1.4"/>
<line x1="106.20" y1="617.70" x2="124.40" y2="617.70" stroke="#000" stroke-width="1.4"/>
<line x1="143.10" y1="610.60" x2="143.10" y2="616.30" stroke="#000" stroke-width="1.1"/>
<line x1="138.80" y1="610.60" x2="147.40" y2="610.60" stroke="#000" stroke-width="1.1"/>
<line x1="134.00" y1="616.30" x2="153.20" y2="616.30" stroke="#000" stroke-width="1.4"/>
<line x1="161.90" y1="621.90" x2="180.70" y2="621.90" stroke="#000" stroke-width="1.4"/>
<line x1="200.20" y1="600.40" x2="200.20" y2="605.80" stroke="#000" stroke-width="1.1"/>
<line x1="196.20" y1="600.40" x2="204.20" y2="600.40" stroke="#000" stroke-width="1.1"/>
<line x1="190.30" y1="605.80" x2="208.70" y2="605.80" stroke="#000" stroke-width="1.4"/>
<line x1="228.40" y1="600.00" x2="228.40" y2="604.60" stroke="#000" stroke-width="1.1"/>
<line x1="224.10" y1="600.00" x2="232.70" y2="600.00" stroke="#000" stroke-width="1.1"/>
<line x1="219.20" y1="604.60" x2="238.00" y2="604.60" stroke="#000" stroke-width="1.4"/>
<line x1="300.60" y1="553.80" x2="300.60" y2="578.50" stroke="#000" stroke-width="1.2"/>
<line x1="300.60" y1="582.00" x2="300.60" y2="683.40" stroke="#000" stroke-width="1.2"/>
<line x1="298.00" y1="578.50" x2="303.80" y2="578.50" stroke="#000" stroke-width="1.0"/>
<line x1="298.00" y1="582.00" x2="303.80" y2="582.00" stroke="#000" stroke-width="1.0"/>
<line x1="297.40" y1="555.50" x2="300.60" y2="555.50" stroke="#000" stroke-width="1.0"/>
<text x="293.30" y="558.30" font-size="8.0" text-anchor="end" fill="#111">30</text>
<line x1="297.40" y1="563.50" x2="300.60" y2="563.50" stroke="#000" stroke-width="1.0"/>
<text x="293.30" y="566.00" font-size="8.0" text-anchor="end" fill="#111">20</text>
<line x1="297.40" y1="571.50" x2="300.60" y2="571.50" stroke="#000" stroke-width="1.0"/>
<text x="293.30" y="574.00" font-size="8.0" text-anchor="end" fill="#111">10</text>
<line x1="297.40" y1="682.50" x2="300.60" y2="682.50" stroke="#000" stroke-width="1.0"/>
<text x="293.30" y="685.80" font-size="8.0" text-anchor="end" fill="#111">0.0</text>
<line x1="297.40" y1="662.50" x2="300.60" y2="662.50" stroke="#000" stroke-width="1.0"/>
<text x="293.30" y="665.76" font-size="8.0" text-anchor="end" fill="#111">0.2</text>
<line x1="297.40" y1="642.50" x2="300.60" y2="642.50" stroke="#000" stroke-width="1.0"/>
<text x="293.30" y="645.72" font-size="8.0" text-anchor="end" fill="#111">0.4</text>
<line x1="297.40" y1="622.50" x2="300.60" y2="622.50" stroke="#000" stroke-width="1.0"/>
<text x="293.30" y="625.68" font-size="8.0" text-anchor="end" fill="#111">0.6</text>
<line x1="297.40" y1="602.50" x2="300.60" y2="602.50" stroke="#000" stroke-width="1.0"/>
<text x="293.30" y="605.64" font-size="8.0" text-anchor="end" fill="#111">0.8</text>
<line x1="297.40" y1="582.50" x2="300.60" y2="582.50" stroke="#000" stroke-width="1.0"/>
<text x="293.30" y="585.60" font-size="8.0" text-anchor="end" fill="#111">1.0</text>
<line x1="300.00" y1="682.90" x2="512.00" y2="682.90" stroke="#000" stroke-width="1.2"/>
<text x="321.80" y="696.60" font-size="8.0" text-anchor="middle" fill="#111">miR 210</text>
<text x="364.40" y="696.60" font-size="8.0" text-anchor="middle" fill="#111">425</text>
<text x="406.60" y="696.60" font-size="8.0" text-anchor="middle" fill="#111">1253</text>
<text x="448.90" y="696.60" font-size="8.0" text-anchor="middle" fill="#111">4269</text>
<text x="491.20" y="696.60" font-size="8.0" text-anchor="middle" fill="#111">4667-3p</text>
<text x="276.90" y="618.00" font-size="8.75" text-anchor="middle" fill="#111" transform="rotate(-90 276.90 618.00)">miR expression</text>
<text x="306.90" y="538.90" font-size="7.2" text-anchor="start" fill="#111">n=83</text>
<line x1="307.20" y1="548.70" x2="336.40" y2="548.70" stroke="#000" stroke-width="1.1"/>
<circle cx="320.30" cy="543.00" r="1.05" fill="#222"/>
<circle cx="323.30" cy="543.00" r="1.05" fill="#222"/>
<line x1="349.80" y1="548.70" x2="379.00" y2="548.70" stroke="#000" stroke-width="1.1"/>
<circle cx="362.90" cy="543.00" r="1.05" fill="#222"/>
<circle cx="365.90" cy="543.00" r="1.05" fill="#222"/>
<line x1="392.00" y1="548.70" x2="421.20" y2="548.70" stroke="#000" stroke-width="1.1"/>
<circle cx="405.10" cy="543.00" r="1.05" fill="#222"/>
<circle cx="408.10" cy="543.00" r="1.05" fill="#222"/>
<line x1="434.30" y1="548.70" x2="463.50" y2="548.70" stroke="#000" stroke-width="1.1"/>
<circle cx="447.40" cy="543.00" r="1.05" fill="#222"/>
<circle cx="450.40" cy="543.00" r="1.05" fill="#222"/>
<line x1="476.60" y1="548.70" x2="505.80" y2="548.70" stroke="#000" stroke-width="1.1"/>
<circle cx="489.70" cy="543.00" r="1.05" fill="#222"/>
<circle cx="492.70" cy="543.00" r="1.05" fill="#222"/>
<g fill="#888888" stroke="#080808" stroke-width="1.3">
<circle cx="311.60" cy="575.90" r="2.6"/>
<circle cx="314.80" cy="577.30" r="2.6"/>
<circle cx="318.60" cy="578.20" r="2.6"/>
<circle cx="322.80" cy="578.60" r="2.6"/>
<circle cx="326.40" cy="578.20" r="2.6"/>
<circle cx="329.60" cy="577.30" r="2.6"/>
<circle cx="332.80" cy="575.20" r="2.6"/>
<circle cx="313.20" cy="577.20" r="2.6"/>
<circle cx="316.70" cy="578.35" r="2.6"/>
<circle cx="320.70" cy="579.00" r="2.6"/>
<circle cx="324.60" cy="579.00" r="2.6"/>
<circle cx="328.00" cy="578.35" r="2.6"/>
<circle cx="331.20" cy="576.85" r="2.6"/>
<circle cx="313.20" cy="592.40" r="2.6"/>
<circle cx="321.70" cy="597.20" r="2.6"/>
<circle cx="330.90" cy="596.70" r="2.6"/>
<circle cx="312.00" cy="601.30" r="2.6"/>
<circle cx="331.60" cy="600.30" r="2.6"/>
<circle cx="316.20" cy="608.20" r="2.6"/>
<circle cx="321.70" cy="608.20" r="2.6"/>
<circle cx="327.20" cy="606.80" r="2.6"/>
<circle cx="332.70" cy="613.70" r="2.6"/>
<circle cx="312.00" cy="618.70" r="2.6"/>
<circle cx="318.40" cy="620.60" r="2.6"/>
<circle cx="325.70" cy="618.70" r="2.6"/>
<circle cx="314.40" cy="631.50" r="2.6"/>
<circle cx="317.80" cy="629.60" r="2.6"/>
<circle cx="326.00" cy="630.10" r="2.6"/>
<circle cx="329.80" cy="632.50" r="2.6"/>
<circle cx="312.00" cy="635.90" r="2.6"/>
<circle cx="315.90" cy="634.90" r="2.6"/>
<circle cx="320.20" cy="634.40" r="2.6"/>
<circle cx="324.00" cy="635.40" r="2.6"/>
<circle cx="327.90" cy="634.40" r="2.6"/>
<circle cx="312.50" cy="637.80" r="2.6"/>
<circle cx="315.90" cy="640.20" r="2.6"/>
<circle cx="319.20" cy="642.60" r="2.6"/>
<circle cx="322.10" cy="644.50" r="2.6"/>
<circle cx="325.00" cy="644.50" r="2.6"/>
<circle cx="328.40" cy="642.10" r="2.6"/>
<circle cx="331.70" cy="640.20" r="2.6"/>
<circle cx="312.50" cy="650.80" r="2.6"/>
<circle cx="316.80" cy="653.20" r="2.6"/>
<circle cx="320.70" cy="655.10" r="2.6"/>
<circle cx="322.60" cy="655.60" r="2.6"/>
<circle cx="324.50" cy="653.20" r="2.6"/>
<circle cx="328.80" cy="651.70" r="2.6"/>
<circle cx="332.20" cy="650.60" r="2.6"/>
<circle cx="313.00" cy="661.80" r="2.6"/>
<circle cx="316.80" cy="666.20" r="2.6"/>
<circle cx="321.60" cy="664.70" r="2.6"/>
<circle cx="326.00" cy="667.60" r="2.6"/>
<circle cx="330.80" cy="665.20" r="2.6"/>
<circle cx="312.30" cy="668.60" r="2.6"/>
<circle cx="317.30" cy="671.00" r="2.6"/>
<circle cx="323.60" cy="672.70" r="2.6"/>
<circle cx="327.90" cy="675.30" r="2.6"/>
<circle cx="332.20" cy="670.00" r="2.6"/>
<circle cx="321.00" cy="677.00" r="2.6"/>
<circle cx="314.50" cy="674.00" r="2.6"/>
<circle cx="330.00" cy="673.00" r="2.6"/>
<circle cx="320.00" cy="668.50" r="2.6"/>
<circle cx="317.80" cy="675.80" r="2.6"/>
<circle cx="311.50" cy="679.10" r="2.6"/>
<circle cx="316.30" cy="680.60" r="2.6"/>
<circle cx="320.70" cy="681.50" r="2.6"/>
<circle cx="324.00" cy="681.50" r="2.6"/>
<circle cx="328.40" cy="679.60" r="2.6"/>
<circle cx="332.70" cy="678.20" r="2.6"/>
<circle cx="314.00" cy="665.00" r="2.6"/>
<circle cx="329.00" cy="661.00" r="2.6"/>
<circle cx="324.00" cy="660.00" r="2.6"/>
</g>
<g fill="#888888" stroke="#080808" stroke-width="1.3">
<circle cx="352.90" cy="576.90" r="2.6"/>
<circle cx="356.10" cy="578.00" r="2.6"/>
<circle cx="360.30" cy="575.20" r="2.6"/>
<circle cx="363.50" cy="578.60" r="2.6"/>
<circle cx="367.70" cy="574.80" r="2.6"/>
<circle cx="370.90" cy="577.30" r="2.6"/>
<circle cx="374.50" cy="577.30" r="2.6"/>
<circle cx="354.50" cy="578.05" r="2.6"/>
<circle cx="358.20" cy="577.20" r="2.6"/>
<circle cx="361.90" cy="577.50" r="2.6"/>
<circle cx="365.60" cy="577.30" r="2.6"/>
<circle cx="369.30" cy="576.65" r="2.6"/>
<circle cx="372.70" cy="577.90" r="2.6"/>
<circle cx="359.80" cy="598.20" r="2.6"/>
<circle cx="368.30" cy="602.20" r="2.6"/>
<circle cx="368.30" cy="617.40" r="2.6"/>
<circle cx="359.80" cy="620.80" r="2.6"/>
<circle cx="359.80" cy="630.10" r="2.6"/>
<circle cx="356.40" cy="633.50" r="2.6"/>
<circle cx="368.40" cy="632.00" r="2.6"/>
<circle cx="371.80" cy="635.40" r="2.6"/>
<circle cx="361.70" cy="636.80" r="2.6"/>
<circle cx="366.50" cy="637.80" r="2.6"/>
<circle cx="355.50" cy="640.70" r="2.6"/>
<circle cx="364.10" cy="646.00" r="2.6"/>
<circle cx="377.10" cy="646.00" r="2.6"/>
<circle cx="359.80" cy="648.40" r="2.6"/>
<circle cx="353.50" cy="651.30" r="2.6"/>
<circle cx="356.90" cy="652.70" r="2.6"/>
<circle cx="368.00" cy="652.70" r="2.6"/>
<circle cx="371.80" cy="650.80" r="2.6"/>
<circle cx="360.30" cy="654.60" r="2.6"/>
<circle cx="373.30" cy="653.70" r="2.6"/>
<circle cx="368.00" cy="657.50" r="2.6"/>
<circle cx="375.20" cy="658.00" r="2.6"/>
<circle cx="353.10" cy="659.40" r="2.6"/>
<circle cx="356.40" cy="659.90" r="2.6"/>
<circle cx="364.60" cy="664.20" r="2.6"/>
<circle cx="359.30" cy="665.20" r="2.6"/>
<circle cx="353.50" cy="669.00" r="2.6"/>
<circle cx="356.00" cy="670.00" r="2.6"/>
<circle cx="360.80" cy="671.90" r="2.6"/>
<circle cx="369.90" cy="670.50" r="2.6"/>
<circle cx="374.70" cy="669.00" r="2.6"/>
<circle cx="365.60" cy="674.30" r="2.6"/>
<circle cx="371.50" cy="666.50" r="2.6"/>
<circle cx="363.00" cy="668.00" r="2.6"/>
<circle cx="353.50" cy="678.70" r="2.6"/>
<circle cx="358.80" cy="677.20" r="2.6"/>
<circle cx="368.90" cy="677.70" r="2.6"/>
<circle cx="375.70" cy="678.20" r="2.6"/>
<circle cx="359.30" cy="682.50" r="2.6"/>
<circle cx="365.60" cy="683.30" r="2.6"/>
<circle cx="372.30" cy="681.10" r="2.6"/>
<circle cx="363.00" cy="679.00" r="2.6"/>
<circle cx="369.00" cy="662.00" r="2.6"/>
<circle cx="357.00" cy="662.50" r="2.6"/>
<circle cx="374.00" cy="662.50" r="2.6"/>
<circle cx="356.00" cy="675.00" r="2.6"/>
<circle cx="372.00" cy="674.00" r="2.6"/>
<circle cx="362.00" cy="658.00" r="2.6"/>
<circle cx="366.00" cy="650.00" r="2.6"/>
<circle cx="358.00" cy="644.00" r="2.6"/>
<circle cx="370.00" cy="641.00" r="2.6"/>
</g>
<g fill="#888888" stroke="#080808" stroke-width="1.3">
<circle cx="396.90" cy="573.40" r="2.6"/>
<circle cx="399.70" cy="575.70" r="2.6"/>
<circle cx="403.80" cy="577.30" r="2.6"/>
<circle cx="408.50" cy="577.80" r="2.6"/>
<circle cx="412.60" cy="576.60" r="2.6"/>
<circle cx="415.80" cy="573.80" r="2.6"/>
<circle cx="398.30" cy="575.15" r="2.6"/>
<circle cx="401.75" cy="577.10" r="2.6"/>
<circle cx="406.15" cy="578.15" r="2.6"/>
<circle cx="410.55" cy="577.80" r="2.6"/>
<circle cx="414.20" cy="575.80" r="2.6"/>
<circle cx="406.70" cy="601.60" r="2.6"/>
<circle cx="411.90" cy="617.10" r="2.6"/>
<circle cx="397.90" cy="622.70" r="2.6"/>
<circle cx="402.10" cy="627.40" r="2.6"/>
<circle cx="410.80" cy="629.40" r="2.6"/>
<circle cx="395.40" cy="634.60" r="2.6"/>
<circle cx="398.40" cy="634.60" r="2.6"/>
<circle cx="402.10" cy="634.60" r="2.6"/>
<circle cx="406.20" cy="634.60" r="2.6"/>
<circle cx="410.30" cy="634.60" r="2.6"/>
<circle cx="413.90" cy="634.60" r="2.6"/>
<circle cx="417.50" cy="634.60" r="2.6"/>
<circle cx="396.40" cy="642.90" r="2.6"/>
<circle cx="399.50" cy="644.90" r="2.6"/>
<circle cx="406.20" cy="647.00" r="2.6"/>
<circle cx="411.30" cy="643.90" r="2.6"/>
<circle cx="417.00" cy="644.40" r="2.6"/>
<circle cx="403.60" cy="645.40" r="2.6"/>
<circle cx="396.40" cy="650.60" r="2.6"/>
<circle cx="399.50" cy="651.60" r="2.6"/>
<circle cx="410.80" cy="649.60" r="2.6"/>
<circle cx="416.00" cy="651.10" r="2.6"/>
<circle cx="403.10" cy="653.20" r="2.6"/>
<circle cx="405.70" cy="657.30" r="2.6"/>
<circle cx="410.80" cy="659.90" r="2.6"/>
<circle cx="402.10" cy="660.40" r="2.6"/>
<circle cx="397.90" cy="663.00" r="2.6"/>
<circle cx="402.10" cy="665.00" r="2.6"/>
<circle cx="407.70" cy="665.60" r="2.6"/>
<circle cx="413.90" cy="664.50" r="2.6"/>
<circle cx="417.00" cy="662.50" r="2.6"/>
<circle cx="396.90" cy="668.70" r="2.6"/>
<circle cx="400.00" cy="671.20" r="2.6"/>
<circle cx="411.90" cy="672.80" r="2.6"/>
<circle cx="414.40" cy="668.10" r="2.6"/>
<circle cx="406.20" cy="674.90" r="2.6"/>
<circle cx="404.00" cy="669.50" r="2.6"/>
<circle cx="395.90" cy="676.40" r="2.6"/>
<circle cx="400.50" cy="681.00" r="2.6"/>
<circle cx="410.30" cy="682.60" r="2.6"/>
<circle cx="416.00" cy="678.00" r="2.6"/>
<circle cx="413.00" cy="677.00" r="2.6"/>
<circle cx="398.50" cy="678.50" r="2.6"/>
<circle cx="408.00" cy="640.00" r="2.6"/>
<circle cx="414.00" cy="656.00" r="2.6"/>
<circle cx="398.00" cy="657.00" r="2.6"/>
<circle cx="408.00" cy="652.00" r="2.6"/>
<circle cx="404.00" cy="679.00" r="2.6"/>
<circle cx="409.00" cy="670.00" r="2.6"/>
</g>
<g fill="#888888" stroke="#080808" stroke-width="1.3">
<circle cx="438.50" cy="570.40" r="2.6"/>
<circle cx="441.20" cy="573.40" r="2.6"/>
<circle cx="445.40" cy="577.30" r="2.6"/>
<circle cx="450.50" cy="578.00" r="2.6"/>
<circle cx="455.10" cy="576.20" r="2.6"/>
<circle cx="458.10" cy="571.10" r="2.6"/>
<circle cx="439.85" cy="572.50" r="2.6"/>
<circle cx="443.30" cy="575.95" r="2.6"/>
<circle cx="447.95" cy="578.25" r="2.6"/>
<circle cx="452.80" cy="577.70" r="2.6"/>
<circle cx="456.60" cy="574.25" r="2.6"/>
<circle cx="444.70" cy="587.70" r="2.6"/>
<circle cx="452.30" cy="593.00" r="2.6"/>
<circle cx="440.30" cy="602.20" r="2.6"/>
<circle cx="448.80" cy="602.70" r="2.6"/>
<circle cx="461.50" cy="602.20" r="2.6"/>
<circle cx="456.60" cy="606.50" r="2.6"/>
<circle cx="439.80" cy="611.50" r="2.6"/>
<circle cx="448.70" cy="612.50" r="2.6"/>
<circle cx="458.60" cy="615.00" r="2.6"/>
<circle cx="438.20" cy="614.50" r="2.6"/>
<circle cx="443.80" cy="616.40" r="2.6"/>
<circle cx="453.70" cy="617.40" r="2.6"/>
<circle cx="448.20" cy="621.20" r="2.6"/>
<circle cx="440.40" cy="627.40" r="2.6"/>
<circle cx="457.00" cy="626.40" r="2.6"/>
<circle cx="448.70" cy="631.00" r="2.6"/>
<circle cx="444.60" cy="646.00" r="2.6"/>
<circle cx="449.20" cy="644.40" r="2.6"/>
<circle cx="441.00" cy="649.60" r="2.6"/>
<circle cx="453.30" cy="649.00" r="2.6"/>
<circle cx="446.10" cy="652.70" r="2.6"/>
<circle cx="451.30" cy="653.20" r="2.6"/>
<circle cx="456.40" cy="652.70" r="2.6"/>
<circle cx="442.50" cy="658.90" r="2.6"/>
<circle cx="438.90" cy="662.50" r="2.6"/>
<circle cx="453.90" cy="660.40" r="2.6"/>
<circle cx="458.50" cy="662.00" r="2.6"/>
<circle cx="443.00" cy="664.50" r="2.6"/>
<circle cx="453.30" cy="664.50" r="2.6"/>
<circle cx="448.20" cy="667.10" r="2.6"/>
<circle cx="438.40" cy="668.10" r="2.6"/>
<circle cx="457.50" cy="667.10" r="2.6"/>
<circle cx="442.50" cy="670.70" r="2.6"/>
<circle cx="452.30" cy="670.70" r="2.6"/>
<circle cx="446.60" cy="672.30" r="2.6"/>
<circle cx="448.50" cy="662.00" r="2.6"/>
<circle cx="437.90" cy="677.40" r="2.6"/>
<circle cx="443.50" cy="676.40" r="2.6"/>
<circle cx="452.80" cy="676.40" r="2.6"/>
<circle cx="460.10" cy="677.40" r="2.6"/>
<circle cx="443.00" cy="681.60" r="2.6"/>
<circle cx="451.80" cy="682.10" r="2.6"/>
<circle cx="456.40" cy="680.00" r="2.6"/>
<circle cx="448.00" cy="679.00" r="2.6"/>
<circle cx="441.00" cy="655.00" r="2.6"/>
<circle cx="455.00" cy="657.00" r="2.6"/>
<circle cx="449.00" cy="676.00" r="2.6"/>
<circle cx="459.00" cy="672.00" r="2.6"/>
<circle cx="437.50" cy="673.00" r="2.6"/>
<circle cx="445.00" cy="648.00" r="2.6"/>
</g>
<g fill="#888888" stroke="#080808" stroke-width="1.3">
<circle cx="486.70" cy="555.40" r="2.6"/>
<circle cx="495.10" cy="555.40" r="2.6"/>
<circle cx="481.20" cy="566.50" r="2.6"/>
<circle cx="500.80" cy="564.20" r="2.6"/>
<circle cx="482.30" cy="571.10" r="2.6"/>
<circle cx="491.10" cy="570.40" r="2.6"/>
<circle cx="496.60" cy="568.80" r="2.6"/>
<circle cx="500.30" cy="571.10" r="2.6"/>
<circle cx="486.50" cy="576.60" r="2.6"/>
<circle cx="491.50" cy="578.00" r="2.6"/>
<circle cx="496.20" cy="577.30" r="2.6"/>
<circle cx="491.20" cy="614.70" r="2.6"/>
<circle cx="491.20" cy="636.20" r="2.6"/>
<circle cx="487.00" cy="654.30" r="2.6"/>
<circle cx="495.20" cy="656.90" r="2.6"/>
<circle cx="499.60" cy="655.40" r="2.6"/>
<circle cx="482.30" cy="665.10" r="2.6"/>
<circle cx="486.60" cy="666.80" r="2.6"/>
<circle cx="495.20" cy="666.80" r="2.6"/>
<circle cx="481.80" cy="669.00" r="2.6"/>
<circle cx="485.30" cy="673.30" r="2.6"/>
<circle cx="488.80" cy="674.60" r="2.6"/>
<circle cx="492.70" cy="675.00" r="2.6"/>
<circle cx="496.50" cy="674.60" r="2.6"/>
<circle cx="500.40" cy="672.00" r="2.6"/>
<circle cx="479.70" cy="677.20" r="2.6"/>
<circle cx="483.60" cy="680.70" r="2.6"/>
<circle cx="488.30" cy="682.40" r="2.6"/>
<circle cx="494.80" cy="682.00" r="2.6"/>
<circle cx="499.60" cy="680.20" r="2.6"/>
<circle cx="491.00" cy="679.50" r="2.6"/>
<circle cx="485.00" cy="574.00" r="2.6"/>
<circle cx="494.00" cy="574.50" r="2.6"/>
<circle cx="498.50" cy="566.00" r="2.6"/>
<circle cx="489.00" cy="567.50" r="2.6"/>
<circle cx="484.00" cy="566.00" r="2.6"/>
<circle cx="485.00" cy="677.50" r="2.6"/>
<circle cx="497.00" cy="678.00" r="2.6"/>
<circle cx="490.00" cy="671.00" r="2.6"/>
<circle cx="503.00" cy="679.00" r="2.6"/>
</g>
<circle cx="405.2" cy="682.4" r="2.9" fill="#111"/>
<circle cx="502.2" cy="677.2" r="2.9" fill="#111"/>
<line x1="304.60" y1="635.80" x2="339.00" y2="635.80" stroke="#000" stroke-width="1.4"/>
<line x1="347.00" y1="661.60" x2="381.80" y2="661.60" stroke="#000" stroke-width="1.4"/>
<line x1="389.60" y1="663.00" x2="423.60" y2="663.00" stroke="#000" stroke-width="1.4"/>
<line x1="432.10" y1="663.40" x2="465.70" y2="663.40" stroke="#000" stroke-width="1.4"/>
<line x1="474.60" y1="678.10" x2="507.80" y2="678.10" stroke="#000" stroke-width="1.4"/>
<rect x="0" y="0" width="1.6" height="707" fill="#000"/>
<rect x="0" y="0" width="520" height="1.1" fill="#000"/>
<rect x="518.3" y="0" width="1.7" height="707" fill="#000"/>
<rect x="0" y="705.3" width="520" height="1.7" fill="#000"/>
</svg>
</body></html>
